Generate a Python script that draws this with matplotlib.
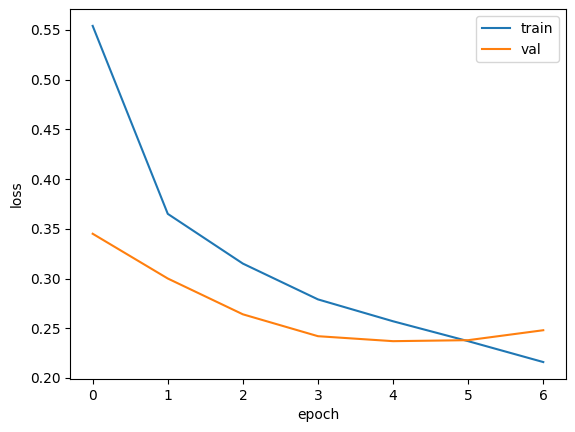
import matplotlib.pyplot as plt

epochs = [0, 1, 2, 3, 4, 5, 6]
train_loss = [0.554, 0.365, 0.315, 0.279, 0.257, 0.237, 0.216]
val_loss = [0.345, 0.300, 0.264, 0.242, 0.237, 0.238, 0.248]

fig = plt.figure(figsize=(5.75, 4.32), dpi=100)
fig.subplots_adjust(left=0.122, right=0.984, top=0.979, bottom=0.123)
plt.plot(epochs, train_loss, label="train")
plt.plot(epochs, val_loss, label="val")
plt.xlabel("epoch")
plt.ylabel("loss")
plt.legend()
plt.savefig("out.png")
plt.close()
